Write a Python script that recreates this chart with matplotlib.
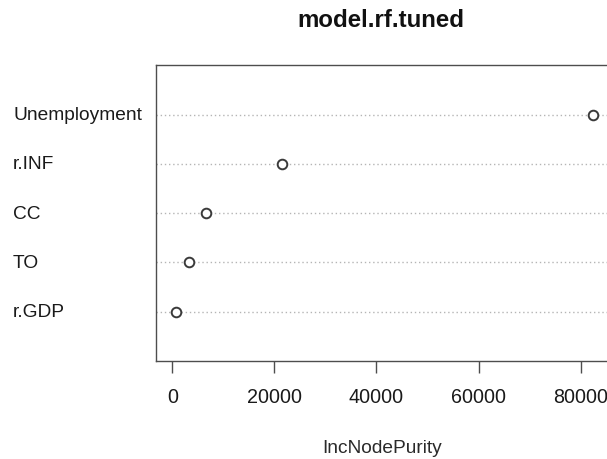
import matplotlib
matplotlib.use("Agg")
import matplotlib.pyplot as plt

# Variable importance (IncNodePurity) of the tuned random forest
variables = ["r.GDP", "TO", "CC", "r.INF", "Unemployment"]
importance = [660, 3270, 6600, 21390, 82410]
xticks = [0, 20000, 40000, 60000, 80000]
xtick_labels = ["0", "20000", "40000", "60000", "80000"]

W, H = 607, 460
plt.rcParams["font.family"] = ["Liberation Sans", "DejaVu Sans"]

fig = plt.figure(figsize=(W / 100, H / 100), dpi=100)
fig.patch.set_facecolor("white")

# axes box in pixel coordinates
left_px, right_px, top_px, bottom_px = 155.5, 609.8, 66.2, 362.0
ax = fig.add_axes([left_px / W, 1 - bottom_px / H,
                   (right_px - left_px) / W, (bottom_px - top_px) / H])

xmax = max(importance)
ax.set_xlim(-0.04 * xmax, 1.04 * xmax)
ax.set_ylim(0, len(variables) + 1)

ypos = list(range(1, len(variables) + 1))
for y in ypos:
    ax.axhline(y, color="#b5b5b5", lw=1.0, ls=(0, (1, 2)), zorder=1)

ax.scatter(importance, ypos, s=48, facecolors="white", edgecolors="#3a3a3a",
           linewidths=1.4, zorder=3)

for s in ax.spines.values():
    s.set_color("#4d4d4d")
    s.set_linewidth(1.0)

ax.set_yticks([])
ax.set_xticks(xticks)
ax.set_xticklabels(xtick_labels)
ax.tick_params(axis="x", direction="out", length=8.5, width=1.0,
               color="#4d4d4d", pad=10, labelsize=14.2, labelcolor="#1a1a1a")

# row labels, left-aligned at the figure margin
for y, name in zip(ypos, variables):
    fy = 1 - (bottom_px - (bottom_px - top_px) * y / (len(variables) + 1)) / H
    fig.text(13 / W, fy, name, ha="left", va="center", fontsize=13.8,
             color="#1a1a1a")

fig.text(381 / W, 1 - 27.3 / H, "model.rf.tuned", ha="center", va="baseline",
         fontsize=17.3, fontweight="bold", color="#111111")
fig.text(381.7 / W, 1 - 453 / H, "IncNodePurity", ha="center", va="baseline",
         fontsize=13.8, color="#2a2a2a")

fig.savefig("out.png", dpi=100, facecolor="white")
